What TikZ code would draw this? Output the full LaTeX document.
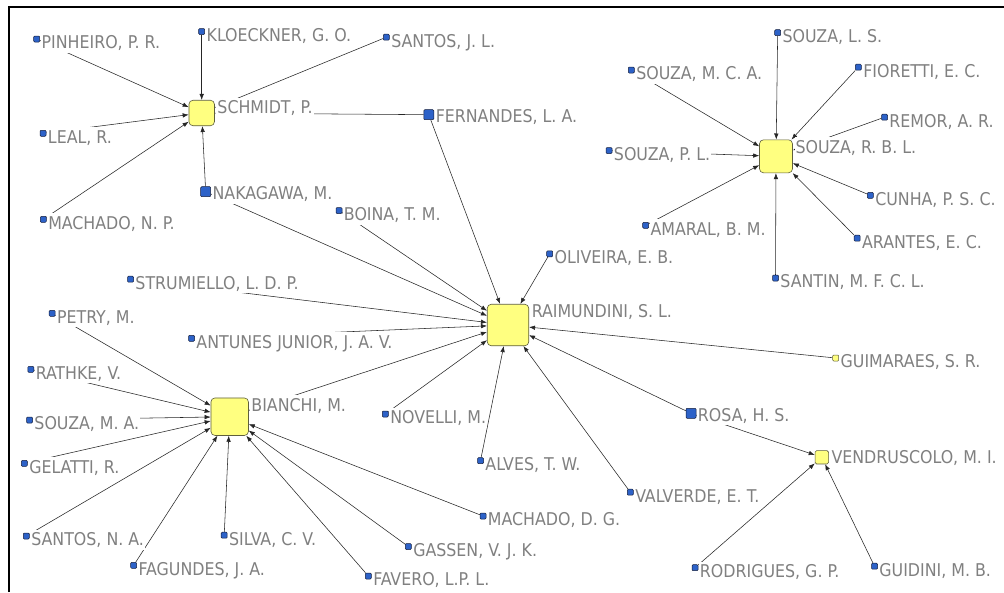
\documentclass[tikz,border=0pt]{standalone}
\usepackage{fontspec}
\setmainfont{DejaVu Sans Condensed}
\usetikzlibrary{arrows.meta}
\pgfdeclarelayer{bg}
\pgfdeclarelayer{edges}
\pgfsetlayers{bg,edges,main}
\definecolor{nodeblue}{RGB}{45,98,200}
\definecolor{nodeborder}{RGB}{20,30,60}
\definecolor{hubyellow}{RGB}{255,255,128}
\definecolor{hubborder}{RGB}{95,95,60}
\definecolor{labelgray}{RGB}{128,128,128}
\tikzset{
  small/.style={draw=nodeborder, fill=nodeblue, minimum size=6pt, inner sep=0pt, rounded corners=1pt, line width=0.5pt},
  big/.style={small, minimum size=10pt},
  ysmall/.style={draw=hubborder, fill=hubyellow, minimum size=6pt, inner sep=0pt, rounded corners=1pt, line width=0.5pt},
  hub/.style={draw=hubborder, fill=hubyellow, rounded corners=4pt, inner sep=0pt, line width=0.6pt},
  lab/.style={font=\fontsize{17.6pt}{20pt}\selectfont, text=labelgray, fill=white, inner xsep=1pt, inner ysep=3.2pt, text height=12.8pt, text depth=1pt, anchor=base west},
  edge/.style={draw=black!85, line width=0.55pt, -{Latex[length=6pt,width=4.5pt]}}
}
\newcommand{\mkperson}[5]{\node[#2] (#1) at (#3,#4) {}; \node[lab] (#1l) at ([xshift=0.5pt,yshift=-13.2pt]#1.north east) {#5};}
\newcommand{\mkhub}[6]{\node[hub, minimum width=#5pt, minimum height=#5pt] (#1) at (#2,#3) {}; \node[lab] (#1l) at ([xshift=1.5pt,yshift=-13.6pt]#1.north east) {#6};}
\begin{document}
\begin{tikzpicture}[x=1pt,y=-1pt]
\begin{pgfonlayer}{bg}
\fill[white] (0,0) rectangle (1004,592);
\end{pgfonlayer}
\useasboundingbox (0,0) rectangle (1004,592);
% hubs
\mkhub{sch}{201.7}{113}{}{25.5}{SCHMIDT, P.}
\mkhub{rai}{508}{325}{}{41.5}{RAIMUNDINI, S. L.}
\mkhub{bia}{229.7}{416.7}{}{37.5}{BIANCHI, M.}
\mkhub{srb}{776}{156.3}{}{33}{SOUZA, R. B. L.}
\node[hub, rounded corners=1.5pt, minimum width=13.5pt, minimum height=13.3pt] (ven) at (821.8,457.3) {};
\node[lab] (venl) at ([xshift=1.5pt,yshift=-13.6pt]ven.north east) {VENDRUSCOLO, M. I.};
% persons
\mkperson{pin}{small}{36.7}{39}{PINHEIRO, P. R.}
\mkperson{klo}{small}{201.7}{31.5}{KLOECKNER, G. O.}
\mkperson{sjl}{small}{386.3}{37.2}{SANTOS, J. L.}
\mkperson{leal}{small}{43}{133.3}{LEAL, R.}
\mkperson{mnp}{small}{43.3}{219.3}{MACHADO, N. P.}
\mkperson{nak}{big}{205.7}{191.7}{NAKAGAWA, M.}
\mkperson{fer}{big}{428.8}{114.7}{FERNANDES, L. A.}
\mkperson{boi}{small}{339}{210.5}{BOINA, T. M.}
\mkperson{str}{small}{130.5}{279.2}{STRUMIELLO, L. D. P.}
\mkperson{pet}{small}{52.2}{313.3}{PETRY, M.}
\mkperson{ant}{small}{191.5}{338.3}{ANTUNES JUNIOR, J. A. V.}
\mkperson{rat}{small}{30.8}{369.3}{RATHKE, V.}
\mkperson{sma}{small}{29.5}{420}{SOUZA, M. A.}
\mkperson{gel}{small}{24.3}{463.3}{GELATTI, R.}
\mkperson{sna}{small}{26.3}{536}{SANTOS, N. A.}
\mkperson{sil}{small}{224.2}{535.2}{SILVA, C. V.}
\mkperson{fag}{small}{133.7}{565.3}{FAGUNDES, J. A.}
\mkperson{fav}{small}{368.3}{576}{FAVERO, L.P. L.}
\mkperson{gas}{small}{408.3}{546.5}{GASSEN, V. J. K.}
\mkperson{mdg}{small}{483}{516}{MACHADO, D. G.}
\mkperson{nov}{small}{385.3}{414}{NOVELLI, M.}
\mkperson{alv}{small}{480.5}{460.7}{ALVES, T. W.}
\mkperson{val}{small}{630.3}{492.2}{VALVERDE, E. T.}
\mkperson{oli}{small}{549.7}{253.8}{OLIVEIRA, E. B.}
\mkperson{gui}{ysmall}{835.7}{358}{GUIMARAES, S. R.}
\mkperson{ros}{big}{691}{413.3}{ROSA, H. S.}
\mkperson{rod}{small}{695}{567.7}{RODRIGUES, G. P.}
\mkperson{gdi}{small}{874.5}{566.2}{GUIDINI, M. B.}
\mkperson{sls}{small}{777.7}{32.7}{SOUZA, L. S.}
\mkperson{smc}{small}{631.3}{70}{SOUZA, M. C. A.}
\mkperson{fio}{small}{858.3}{67.2}{FIORETTI, E. C.}
\mkperson{rem}{small}{884.5}{117.2}{REMOR, A. R.}
\mkperson{spl}{small}{609}{150.5}{SOUZA, P. L.}
\mkperson{cun}{small}{870.3}{195.3}{CUNHA, P. S. C.}
\mkperson{ama}{small}{645.7}{225.3}{AMARAL, B. M.}
\mkperson{ara}{small}{857.2}{238.2}{ARANTES, E. C.}
\mkperson{san}{small}{775.5}{278}{SANTIN, M. F. C. L.}
% edges
\begin{pgfonlayer}{edges}
\foreach \s/\t in {pin/sch,klo/sch,sjl/sch,leal/sch,mnp/sch,nak/sch,fer/sch,
  fer/rai,nak/rai,boi/rai,str/rai,ant/rai,bia/rai,nov/rai,alv/rai,val/rai,ros/rai,gui/rai,oli/rai,
  ros/ven,rod/ven,gdi/ven,
  pet/bia,rat/bia,sma/bia,gel/bia,sna/bia,fag/bia,sil/bia,fav/bia,gas/bia,mdg/bia,
  sls/srb,smc/srb,fio/srb,rem/srb,spl/srb,cun/srb,ama/srb,ara/srb,san/srb}
  \draw[edge] (\s) -- (\t);
\end{pgfonlayer}
% frame
\draw[line width=2.2pt] (8.7,592) -- (8.7,6.7) -- (1004,6.7);
\end{tikzpicture}
\end{document}
